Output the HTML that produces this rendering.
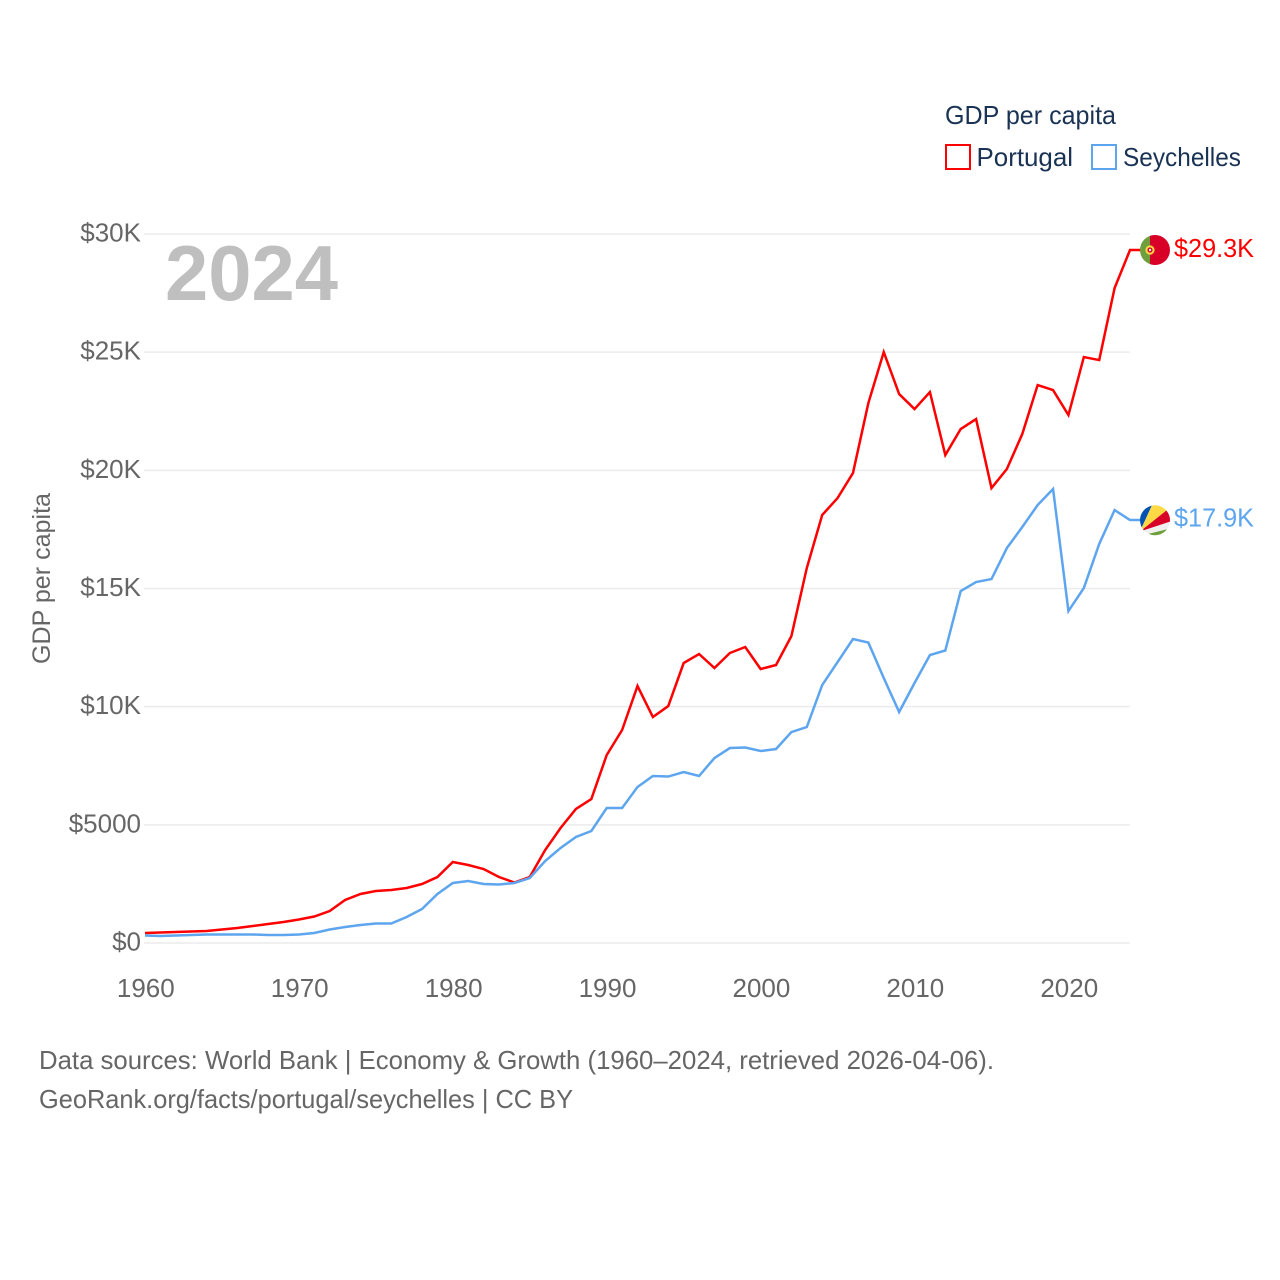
<!DOCTYPE html>
<html lang="en">
<head>
<meta charset="utf-8">
<title>GDP per capita: Portugal and Seychelles</title>
<style>
html,body{margin:0;padding:0;background:#fff;width:1280px;height:1280px;overflow:hidden}
svg{display:block}
text{font-family:"Liberation Sans",sans-serif}
</style>
</head>
<body>
<svg id="chart" xmlns="http://www.w3.org/2000/svg" width="1280" height="1280" viewBox="0 0 1280 1280">
  <defs>
    <clipPath id="clip-pt"><circle cx="1155" cy="250" r="15"/></clipPath>
    <clipPath id="clip-sc"><circle cx="1155" cy="520.300" r="15"/></clipPath>
  </defs>
  <g id="grid"></g>
  <g id="yticks"></g>
  <g id="xticks"></g>
  <text x="165" y="300" font-size="78" font-weight="700" fill="#bfbfbf" textLength="173" lengthAdjust="spacingAndGlyphs">2024</text>
  <text transform="translate(50 664) rotate(-90)" font-size="25" fill="#666666" textLength="171" lengthAdjust="spacingAndGlyphs">GDP per capita</text>
  <g id="series"></g>

  <g clip-path="url(#clip-pt)">
    <rect x="1140" y="235" width="10" height="30" fill="#6f9f3c"/>
    <rect x="1150" y="235" width="20" height="30" fill="#d80027"/>
    <circle cx="1150" cy="250" r="4.600" fill="#ffda44"/>
    <circle cx="1150" cy="250" r="2.600" fill="#d80027"/>
    <circle cx="1150" cy="250" r="1.200" fill="#f0f0f0"/>
  </g>
  <g clip-path="url(#clip-sc)">
    <rect x="1140" y="505" width="31" height="31" fill="#f0f0f0"/>
    <polygon points="1140,531.500 1138,503 1153,503" fill="#0052b4"/>
    <polygon points="1140,531.500 1153,503 1172,503 1172,506" fill="#ffda44"/>
    <polygon points="1140,531.500 1172,506 1172,521" fill="#d80027"/>
    <polygon points="1140,536 1172,528 1172,540 1140,540" fill="#6f9f3c"/>
  </g>

  <text x="1174" y="257" font-size="26" fill="#ff0000" textLength="80" lengthAdjust="spacingAndGlyphs">$29.3K</text>
  <text x="1174" y="526.500" font-size="26" fill="#5da5ee" textLength="80" lengthAdjust="spacingAndGlyphs">$17.9K</text>

  <g>
    <text x="945" y="124" font-size="26" fill="#1a3355" textLength="171" lengthAdjust="spacingAndGlyphs">GDP per capita</text>
    <rect x="946" y="145" width="24" height="24" fill="#fff" stroke="#ff0000" stroke-width="2"/>
    <text x="976.500" y="166" font-size="26" fill="#1a3355" textLength="96.500" lengthAdjust="spacingAndGlyphs">Portugal</text>
    <rect x="1092" y="145" width="24" height="24" fill="#fff" stroke="#5da5ee" stroke-width="2"/>
    <text x="1123" y="166" font-size="26" fill="#1a3355" textLength="118" lengthAdjust="spacingAndGlyphs">Seychelles</text>
  </g>

  <text x="39" y="1069" font-size="26" fill="#666666" textLength="955" lengthAdjust="spacingAndGlyphs">Data sources: World Bank | Economy &amp; Growth (1960–2024, retrieved 2026-04-06).</text>
  <a><text x="39" y="1108" font-size="26" fill="#666666" textLength="534" lengthAdjust="spacingAndGlyphs">GeoRank.org/facts/portugal/seychelles | CC BY</text></a>
</svg>
<script>
const startYear = 1960;
const endYear = 2024;
const portugalValues = [423,444,465,487,508,571,635,719,804,889,994,1121,1354,1819,2073,2200,2242,2327,2496,2792,3427,3300,3131,2792,2560,2792,3935,4866,5670,6093,7954,9012,10874,9562,10027,11847,12228,11635,12270,12524,11593,11762,12989,15866,18109,18828,19886,22847,25005,23228,22593,23313,20647,21747,22170,19251,20055,21536,23609,23397,22339,24794,24667,27713,29321];
const seychellesValues = [317,296,317,338,360,360,360,360,338,338,360,423,571,677,762,825,825,1100,1439,2073,2539,2623,2496,2475,2539,2750,3469,4019,4485,4739,5712,5712,6600,7066,7044,7235,7066,7827,8250,8271,8124,8208,8927,9139,10916,11889,12862,12712,11212,9774,11001,12185,12376,14893,15274,15400,16712,17601,18532,19209,14047,15020,16882,18320,17897];
const yTickValues = [0,5000,10000,15000,20000,25000,30000];
const yTickLabels = ["$0","$5000","$10K","$15K","$20K","$25K","$30K"];
const xTickYears = [1960,1970,1980,1990,2000,2010,2020];

const NS = "http://www.w3.org/2000/svg";
const xLeft = 145, xRight = 1130, yBottom = 943, yTop = 234, yMax = 30000, flagEdgeX = 1141;
function xScale(year){ return xLeft + (year - startYear) / (endYear - startYear) * (xRight - xLeft); }
function yScale(value){ return yBottom - value / yMax * (yBottom - yTop); }

const grid = document.getElementById("grid");
const yticks = document.getElementById("yticks");
const xticks = document.getElementById("xticks");
const series = document.getElementById("series");

yTickValues.forEach(function(v, i){
  const line = document.createElementNS(NS, "line");
  
  
  line.setAttribute("x1", xLeft - 1);
  line.setAttribute("x2", xRight);
  line.setAttribute("y1", yScale(v));
  line.setAttribute("y2", yScale(v));
  line.setAttribute("stroke", "#ebebeb");
  line.setAttribute("stroke-width", "1.5");
  grid.appendChild(line);

  const t = document.createElementNS(NS, "text");
  
  
  t.setAttribute("x", 141);
  t.setAttribute("y", yScale(v) + 7.5);
  t.setAttribute("text-anchor", "end");
  t.setAttribute("font-size", "26");
  t.setAttribute("fill", "#666666");
  t.textContent = yTickLabels[i];
  yticks.appendChild(t);
});

xTickYears.forEach(function(y){
  const t = document.createElementNS(NS, "text");
  
  
  t.setAttribute("x", xScale(y) + 0.8);
  t.setAttribute("y", 997);
  t.setAttribute("text-anchor", "middle");
  t.setAttribute("font-size", "26");
  t.setAttribute("fill", "#666666");
  t.textContent = String(y);
  xticks.appendChild(t);
});

function linePoints(values){
  const pts = values.map(function(v, i){
    return xScale(startYear + i).toFixed(2) + "," + yScale(v).toFixed(2);
  });
  pts.push(flagEdgeX + "," + yScale(values[values.length - 1]).toFixed(2));
  return pts.join(" ");
}

const seychellesLine = document.createElementNS(NS, "polyline");


seychellesLine.setAttribute("points", linePoints(seychellesValues));
seychellesLine.setAttribute("fill", "none");
seychellesLine.setAttribute("stroke", "#5da5ee");
seychellesLine.setAttribute("stroke-width", "2.5");
series.appendChild(seychellesLine);

const portugalLine = document.createElementNS(NS, "polyline");


portugalLine.setAttribute("points", linePoints(portugalValues));
portugalLine.setAttribute("fill", "none");
portugalLine.setAttribute("stroke", "#ff0000");
portugalLine.setAttribute("stroke-width", "2.5");
series.insertBefore(portugalLine, seychellesLine);
</script>
</body>
</html>
